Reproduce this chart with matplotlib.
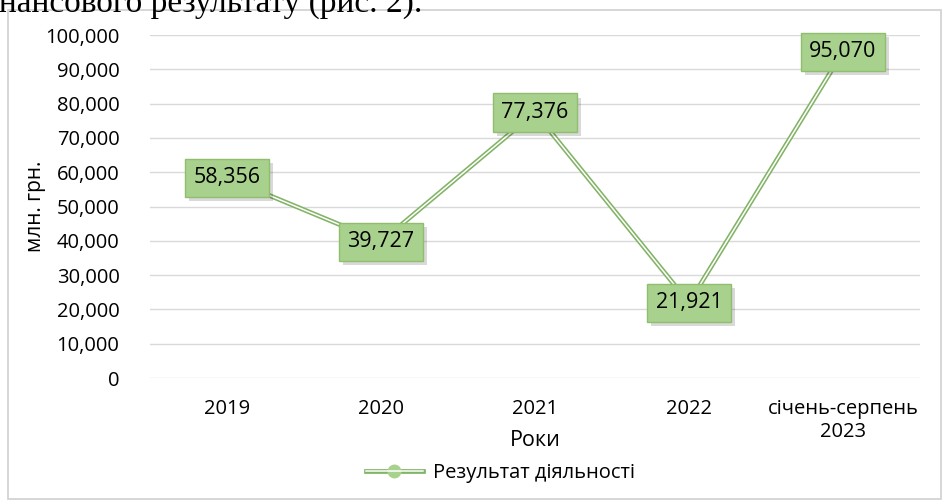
import matplotlib.pyplot as plt
from matplotlib.patches import Rectangle
import matplotlib.patheffects as pe

years = ["2019", "2020", "2021", "2022", "січень-серпень\n2023"]
values = [58.356, 39.727, 77.376, 21.921, 95.070]
value_labels = ["58,356", "39,727", "77,376", "21,921", "95,070"]
yticks = [0, 10, 20, 30, 40, 50, 60, 70, 80, 90, 100]
ytick_labels = ["0", "10,000", "20,000", "30,000", "40,000", "50,000",
                "60,000", "70,000", "80,000", "90,000", "100,000"]

plt.rcParams['font.family'] = ['Open Sans', 'DejaVu Sans']

fig = plt.figure(figsize=(9.42, 5), dpi=100)

# chart frame
fig.patches.append(Rectangle((8 / 942, 0.002), 933 / 942, 0.978, transform=fig.transFigure,
                             fill=False, ec="#d0d0d0", lw=1.2))
# text of the document above the chart, cut off at the top
fig.text(-0.034, 0.962, "фінансового результату (рис. 2).", family="Liberation Serif",
         fontsize=24, ha="left", va="bottom")

ax = fig.add_axes([150 / 942, 0.244, 770 / 942, 0.686])
x = range(len(years))

ax.plot(x, values, color="#82b366", lw=3.4, solid_capstyle="round", zorder=3)
ax.plot(x, values, color="white", lw=1.1, zorder=4)
ax.plot(x, values, "o", ms=8, mfc="#a9d18e", mec="#82b366", zorder=5)

for xi, v, lab in zip(x, values, value_labels):
    t = ax.annotate(lab, (xi, v), ha="center", va="center", fontsize=15.5, color="black",
                    bbox=dict(boxstyle="square,pad=0.4", fc="#a9d18e", ec="#8fbf6c", lw=1), zorder=7)
    t.get_bbox_patch().set_path_effects([
        pe.SimplePatchShadow(offset=(3, -3), shadow_rgbFace="black", alpha=0.15), pe.Normal()])

ax.set_xlim(-0.5, len(years) - 0.5)
ax.set_ylim(0, 100)
ax.set_yticks(yticks)
ax.set_yticklabels(ytick_labels)
ax.set_xticks(list(x))
ax.set_xticklabels(years)
ax.tick_params(length=0, labelsize=14.5, pad=22)
ax.tick_params(axis="x", pad=15)
ax.grid(axis="y", color="#d9d9d9", lw=1)
ax.set_axisbelow(True)
for s in ax.spines.values():
    s.set_visible(False)

ax.set_ylabel("млн. грн.", fontsize=15)
ax.yaxis.set_label_coords(-0.135, 0.5)
ax.set_xlabel("Роки", fontsize=15.5)
ax.xaxis.set_label_coords(0.5, -0.152)

h, = ax.plot([], [], color="#82b366", lw=3.4, marker="o", ms=9, mfc="#a9d18e", mec="#a9d18e")
h2, = ax.plot([], [], color="white", lw=1.1)
ax.legend([(h, h2)], ["Результат діяльності"], loc="center", bbox_to_anchor=(0.455, -0.277),
          frameon=False, fontsize=14.5, handlelength=2.8, handletextpad=0.5)

fig.savefig("out.png", dpi=100)
